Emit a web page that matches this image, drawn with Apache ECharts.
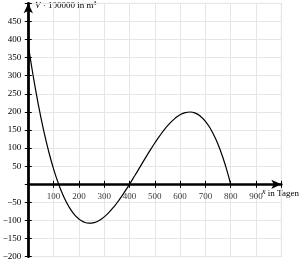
<!DOCTYPE html>
<html>
<head>
<meta charset="utf-8">
<script src="https://cdn.jsdelivr.net/npm/echarts@6/dist/echarts.min.js"></script>
<style>
html,body{margin:0;padding:0;background:#fff;}
#c{width:300px;height:261px;}
</style>
</head>
<body>
<div id="c"></div>
<script>
// Days (t) and volume V (in 100000 m³)
const tDays = [0,20,40,60,80,100,120,140,160,180,200,220,240,260,280,300,320,340,360,380,400,420,440,460,480,500,520,540,560,580,600,620,640,660,680,700,720,740,760,780,800];
const volume = [384,296.4,218.9,151,92.2,42,0,-34.3,-61.4,-81.8,-96,-104.4,-107.5,-105.8,-99.8,-90,-76.8,-60.7,-42.2,-21.8,0,22.8,46.1,69.4,92.2,114,134.4,152.9,169,182.2,192,198,199.7,196.6,188.2,174,153.6,126.5,92.2,50.2,0];
const xTickLabels = [100,200,300,400,500,600,700,800,900];
const yTickLabels = [-200,-150,-100,-50,50,100,150,200,250,300,350,400,450];

const FONT = 'Liberation Serif';
const chart = echarts.init(document.getElementById('c'), null, {renderer:'canvas'});

const gridColor = '#e6e6e6';
const tickStyle = {show:true, length:3.5, lineStyle:{color:'#000', width:1}};
chart.setOption({
  animation:false,
  backgroundColor:'#fff',
  grid:{left:28.3, right:18.7, top:3.3, bottom:4.3, show:false, containLabel:false, outerBoundsMode:'none'},
  xAxis:[{
    type:'value', min:0, max:1000, interval:100, position:'bottom',
    axisLine:{show:true, onZero:true, lineStyle:{color:'#000', width:2.5}, symbol:['none','arrow'], symbolSize:[7,10]},
    axisTick:tickStyle,
    axisLabel:{show:false},
    splitLine:{show:true, lineStyle:{color:gridColor, width:1}}
  },{
    type:'value', min:0, max:1000, interval:100, position:'top',
    axisLine:{show:false, onZero:true},
    axisTick:tickStyle,
    axisLabel:{show:false},
    splitLine:{show:false}
  }],
  yAxis:[{
    type:'value', min:-200, max:500, interval:50, position:'left',
    axisLine:{show:true, onZero:true, lineStyle:{color:'#000', width:2.8}, symbol:['none','arrow'], symbolSize:[7,10]},
    axisTick:tickStyle,
    axisLabel:{show:true, margin:7, fontFamily:FONT, fontSize:9, color:'#000',
      formatter:v => yTickLabels.includes(v) ? String(v).replace('-', '\u2212') : ''},
    splitLine:{show:true, lineStyle:{color:gridColor, width:1}}
  },{
    type:'value', min:-200, max:500, interval:50, position:'right',
    axisLine:{show:false, onZero:true},
    axisTick:tickStyle,
    axisLabel:{show:false},
    splitLine:{show:false}
  }],
  graphic:[
    {type:'rect', shape:{x:28.3, y:3.3, width:253, height:253.4}, style:{fill:'none', stroke:gridColor, lineWidth:1}, z:-1, silent:true},
    {type:'text', left:35, top:0, style:{
      text:'{i|V} · 100000 in m{s|3}',
      rich:{i:{fontStyle:'italic', fontFamily:FONT, fontSize:9, fill:'#000'}, s:{fontFamily:FONT, fontSize:6, fill:'#000', verticalAlign:'top', padding:[0,0,5,0]}},
      fontFamily:FONT, fontSize:9, fill:'#000'}},
    {type:'text', left:262, top:188, style:{
      text:'{i|x} in Tagen',
      rich:{i:{fontStyle:'italic', fontFamily:FONT, fontSize:8, fill:'#000', padding:[0,0,3,0]}},
      fontFamily:FONT, fontSize:9, fill:'#000'}}
  ],
  series:[{
    type:'line', xAxisIndex:0, yAxisIndex:0,
    data: tDays.map((t,i)=>[t, volume[i]]),
    smooth:true, showSymbol:false, symbol:'none',
    lineStyle:{color:'#000', width:1.2},
    clip:true, z:3
  },{
    // x-axis tick labels placed along the zero line
    type:'scatter', xAxisIndex:0, yAxisIndex:0,
    data: xTickLabels.map(v=>[v,0]),
    symbol:'circle', symbolSize:1, silent:true,
    itemStyle:{color:'rgba(0,0,0,0)'},
    label:{show:true, position:'bottom', distance:7, fontFamily:FONT, fontSize:9, color:'#000',
      formatter:p => String(p.value[0])},
    z:4
  }]
});
</script>
</body>
</html>
